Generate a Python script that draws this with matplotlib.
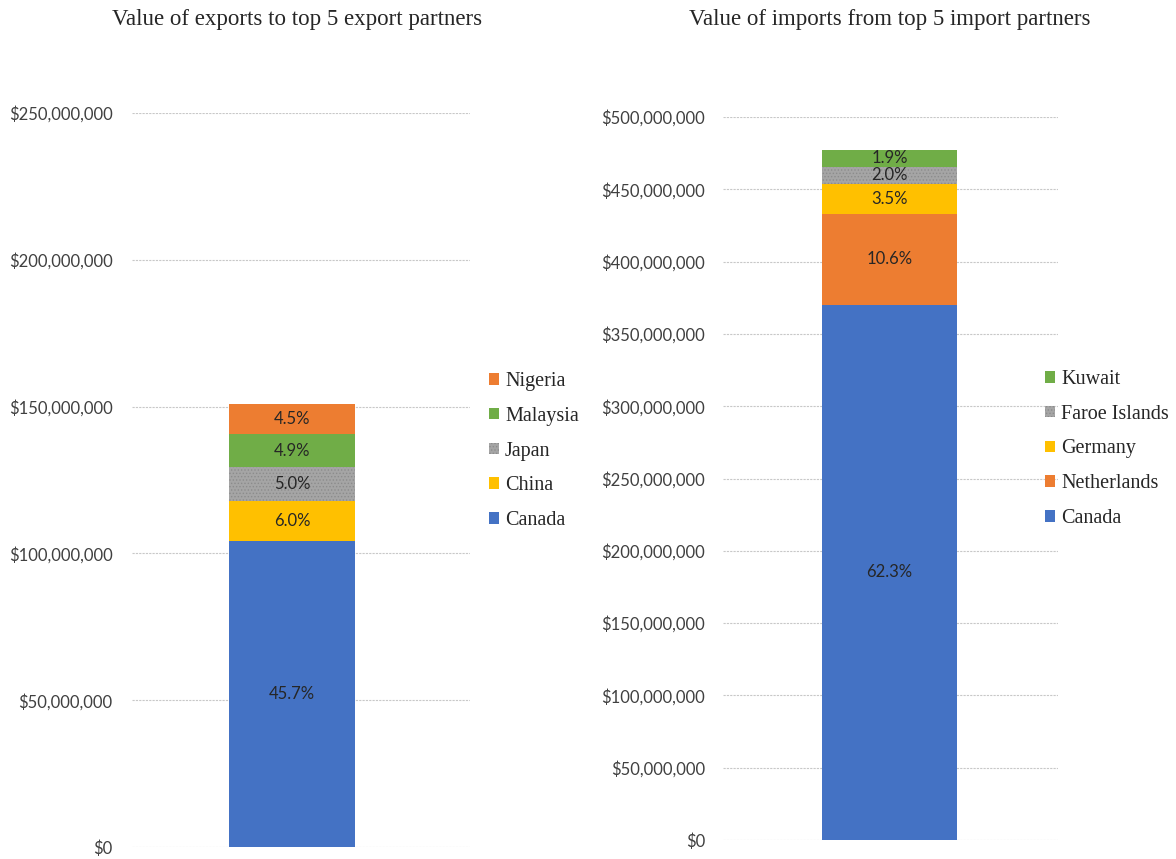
import matplotlib
matplotlib.use("Agg")
import matplotlib.pyplot as plt
from matplotlib.patches import Patch
from matplotlib.ticker import FuncFormatter

# Data (values in millions of dollars)
exp_partners = ["Canada", "China", "Japan", "Malaysia", "Nigeria"]
exp_values = [104.2, 13.7, 11.4, 11.2, 10.3]
exp_labels = ["45.7%", "6.0%", "5.0%", "4.9%", "4.5%"]

imp_partners = ["Canada", "Netherlands", "Germany", "Faroe Islands", "Kuwait"]
imp_values = [370.0, 63.0, 20.8, 11.9, 11.3]
imp_labels = ["62.3%", "10.6%", "3.5%", "2.0%", "1.9%"]

exp_ticks = [0, 50, 100, 150, 200, 250]
imp_ticks = [0, 50, 100, 150, 200, 250, 300, 350, 400, 450, 500]

colors = ["#4472C4", "#FFC000", "#A5A5A5", "#70AD47", "#ED7D31"]
imp_colors = ["#4472C4", "#ED7D31", "#FFC000", "#A5A5A5", "#70AD47"]

SANS = ["Lato", "DejaVu Sans"]
SERIF = ["Liberation Serif", "DejaVu Serif"]

plt.rcParams["hatch.color"] = "#8c8c8c"
plt.rcParams["hatch.linewidth"] = 0.6

fig = plt.figure(figsize=(11.76, 8.59), dpi=100)

def fmt(v, pos):
    return "${:,.0f}".format(v * 1e6)

def draw(ax, values, labels, cols, partners, ticks, xlim, ymax, pad, legpos):
    bottom = 0
    handles = []
    for v, lab, c, p in zip(values, labels, cols, partners):
        hatch = "....." if c == "#A5A5A5" else None
        ax.bar(0, v, width=1.0, bottom=bottom, color=c, hatch=hatch,
               linewidth=0, zorder=3)
        ax.text(0, bottom + v / 2, lab, ha="center", va="center",
                fontsize=12, family=SANS, color="#262626", zorder=4)
        bottom += v
        handles.append(Patch(facecolor=c, hatch=hatch, linewidth=0, label=p))
    ax.set_xlim(*xlim)
    ax.set_ylim(0, ymax)
    ax.set_yticks(ticks)
    ax.yaxis.set_major_formatter(FuncFormatter(fmt))
    ax.tick_params(axis="y", length=0, pad=pad, labelsize=12, labelcolor="#404040")
    for t in ax.get_yticklabels():
        t.set_family(SANS)
    ax.set_xticks([])
    for s in ax.spines.values():
        s.set_visible(False)
    ax.grid(axis="y", color="#c8c8c8", linestyle=(0, (2, 1)), linewidth=0.8, zorder=0)
    ax.set_axisbelow(True)
    leg = fig.legend(handles=handles[::-1], loc="center left", bbox_to_anchor=legpos,
                     frameon=False, prop={"family": SERIF, "size": 14.5},
                     handlelength=0.5, handleheight=0.5, handletextpad=0.3,
                     labelspacing=0.78, borderaxespad=0, borderpad=0)
    for t in leg.get_texts():
        t.set_color("#262626")

W, H = 1176, 859
ax1 = fig.add_axes([132 / W, 1 - 847 / H, 338 / W, 734 / H])
draw(ax1, exp_values, exp_labels, colors, exp_partners, exp_ticks,
     (-(292 - 132) / 126, (470 - 292) / 126), 250, 14, (489 / W, 1 - 451 / H))

ax2 = fig.add_axes([723 / W, 1 - 840 / H, 335 / W, 723 / H])
draw(ax2, imp_values, imp_labels, imp_colors, imp_partners, imp_ticks,
     (-(889.5 - 723) / 135, (1058 - 889.5) / 135), 500, 13, (1045 / W, 1 - 449 / H))

fig.text(297 / W, 1 - 20 / H, "Value of exports to top 5 export partners",
         ha="center", va="center", fontsize=16.5, family=SERIF, color="#262626")
fig.text(890 / W, 1 - 20 / H, "Value of imports from top 5 import partners",
         ha="center", va="center", fontsize=16.5, family=SERIF, color="#262626")

fig.savefig("out.png", dpi=100, facecolor="white")
